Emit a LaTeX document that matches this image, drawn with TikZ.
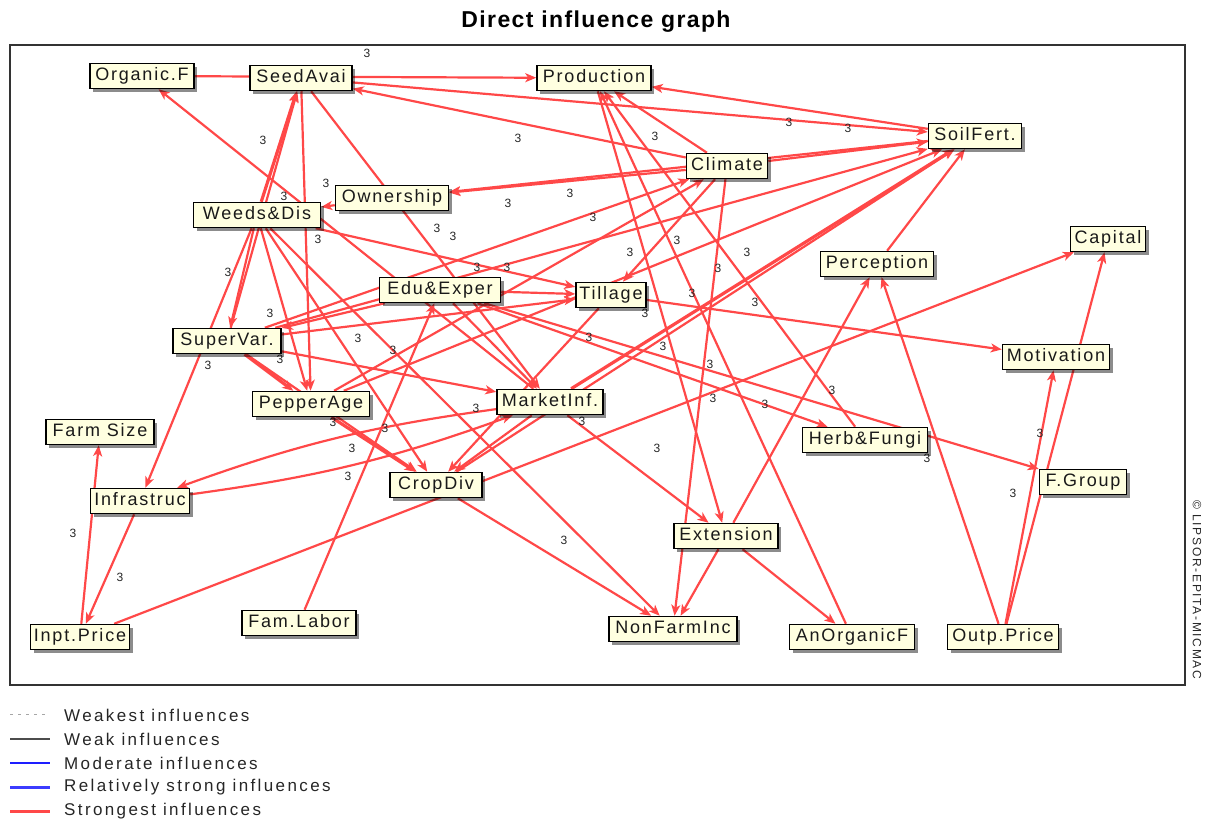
\documentclass[tikz,border=0pt]{standalone}
\usepackage{fontspec}
\setmainfont{Liberation Sans}
\newfontfamily\nodefont[LetterSpace=10]{Liberation Sans}
\newfontfamily\legfont[LetterSpace=14]{Liberation Sans}
\newfontfamily\ttlfont[LetterSpace=6]{Liberation Sans}
\usetikzlibrary{arrows.meta,shadows}
\definecolor{edgered}{RGB}{255,72,72}
\definecolor{cream}{RGB}{255,255,224}
\definecolor{legblue}{RGB}{60,60,255}
\definecolor{modblue}{RGB}{30,30,255}
\pgfdeclarelayer{background}
\pgfdeclarelayer{labels}
\pgfsetlayers{background,labels,main}
\begin{document}
\begin{tikzpicture}[x=1pt,y=-1pt,
 vbox/.style={draw=black, line width=1.5pt, fill=cream, minimum height=25pt, inner sep=1pt,
   text height=13pt, text depth=4pt,
   font=\nodefont\fontsize{18}{20}\selectfont, text=black!90,
   drop shadow={shadow xshift=3pt, shadow yshift=-3pt, opacity=0.45, fill=black}},
 infl/.style={draw=edgered, line width=2.2pt, -{Stealth[length=11pt,width=9pt,inset=3pt]}},
 heavy/.style={line width=3.2pt},
 lbl/.style={font=\fontsize{12}{13}\selectfont, text=black!85, inner sep=0pt},
 legtxt/.style={font=\legfont\fontsize{17}{19}\selectfont, anchor=west, inner sep=0pt, text=black!85},
 legline/.style={line width=1.2pt},
]
\useasboundingbox (0,0) rectangle (1208,822);

% title
\node[font=\ttlfont\bfseries\fontsize{23}{25}\selectfont] (title) at (596,22) {Direct influence graph};

% variables
\node[vbox, minimum width=104pt] (orgf)  at (142,76)  {Organic.F};
\node[vbox, minimum width=102pt] (seed)  at (301,78)  {SeedAvai};
\node[vbox, minimum width=114pt] (prod)  at (594,78)  {Production};
\node[vbox, minimum width=93pt]  (soil)  at (975,136) {SoilFert.};
\node[vbox, minimum width=81pt]  (clim)  at (727,166) {Climate};
\node[vbox, minimum width=113pt] (own)   at (392,198) {Ownership};
\node[vbox, minimum width=127pt] (weed)  at (257,215) {Weeds\&Dis};
\node[vbox, minimum width=75pt]  (cap)   at (1108,239) {Capital};
\node[vbox, minimum width=113pt] (perc)  at (877,264) {Perception};
\node[vbox, minimum width=121pt] (edu)   at (440,290) {Edu\&Exper};
\node[vbox, minimum width=70pt]  (till)  at (611,295) {Tillage};
\node[vbox, minimum width=108pt] (sup)   at (227,341) {SuperVar.};
\node[vbox, minimum width=107pt] (mot)   at (1056,357) {Motivation};
\node[vbox, minimum width=117pt] (pep)   at (311,404) {PepperAge};
\node[vbox, minimum width=106pt] (mkt)   at (550,402) {MarketInf.};
\node[vbox, minimum width=108pt] (farm)  at (100,432) {Farm Size};
\node[vbox, minimum width=125pt] (herb)  at (865,440) {Herb\&Fungi};
\node[vbox, minimum width=92pt]  (crop)  at (436,485) {CropDiv};
\node[vbox, minimum width=87pt]  (fgrp)  at (1083,482) {F.Group};
\node[vbox, minimum width=99pt]  (infra) at (140,501) {Infrastruc};
\node[vbox, minimum width=104pt] (ext)   at (726,536) {Extension};
\node[vbox, minimum width=128pt] (nfi)   at (673,629) {NonFarmInc};
\node[vbox, minimum width=125pt] (anorg) at (852,637) {AnOrganicF};
\node[vbox, minimum width=111pt] (outp)  at (1003,637) {Outp.Price};
\node[vbox, minimum width=114pt] (fam)   at (299,623) {Fam.Labor};
\node[vbox, minimum width=99pt]  (inpt)  at (80,637)  {Inpt.Price};

% influence values
\begin{pgfonlayer}{labels}
\foreach \p [count=\i] in {(367,53),(263,140),(518,138),(655,136),(789,122),(848,128),
  (326,183),(284,196),(318,239),(437,228),(453,236),(570,193),(508,203),(593,217),
  (228,272),(630,252),(677,240),(747,252),(718,268),(477,267),(507,267),(270,313),
  (692,293),(755,302),(645,313),(358,338),(393,350),(589,337),(663,346),(710,364),
  (208,365),(280,359),(713,398),(765,404),(476,408),(582,421),(333,422),(385,428),
  (352,448),(348,476),(657,448),(832,390),(927,458),(1040,433),(1013,493),(564,540),
  (73,533),(120,577)}
  \node[lbl] (lab\i) at \p {3};
\end{pgfonlayer}

% influences
\begin{pgfonlayer}{background}
\draw[line width=1.4pt, draw=black!80] (10,45) rectangle (1185,685);
\foreach \a/\b in {orgf/prod, seed/soil, soil/prod, clim/seed, clim/own, soil/own,
  clim/prod, clim/soil, clim/till, sup/clim, clim/nfi, crop/soil, pep/soil, sup/soil,
  perc/soil, ext/perc, outp/perc, outp/cap, outp/mot, till/mot, inpt/cap, edu/fgrp,
  edu/herb, herb/prod, ext/anorg, anorg/prod, ext/nfi, crop/nfi, weed/nfi, prod/ext,
  mkt/ext, sup/seed, weed/sup, weed/infra, seed/pep, weed/pep, seed/mkt, own/weed,
  mkt/orgf, weed/crop, sup/mkt, inpt/farm, infra/inpt, fam/edu, edu/till, weed/till,
  sup/till, edu/sup, pep/clim, edu/mkt, mkt/crop, sup/crop, till/crop}
  \draw[infl] (\a) -- (\b);
\foreach \a/\b in {weed/seed, sup/pep, mkt/soil, pep/crop}
  \draw[infl, heavy] (\a) -- (\b);
\draw[infl] (mkt) to[bend right=6] (infra);
\draw[infl] (infra) to[bend right=6] (mkt);
\end{pgfonlayer}

% copyright
\node[rotate=-90, font=\legfont\fontsize{12}{13}\selectfont, text=black!85] (copy) at (1197,590) {© LIPSOR-EPITA-MICMAC};

% legend
\draw[legline, draw=black!35, line width=1pt, dash pattern=on 3pt off 5pt] (10,714) -- (45,714);
\draw[legline, draw=black!70] (10,739) -- (50,739);
\draw[legline, draw=modblue] (10,763) -- (50,763);
\draw[legline, draw=legblue, line width=3pt] (10,787) -- (50,787);
\draw[legline, draw=edgered, line width=3pt] (10,811) -- (50,811);
\node[legtxt] (lg1) at (64,715) {Weakest influences};
\node[legtxt] (lg2) at (64,739) {Weak influences};
\node[legtxt] (lg3) at (64,763) {Moderate influences};
\node[legtxt] (lg4) at (64,787) {Relatively strong influences};
\node[legtxt] (lg5) at (64,811) {Strongest influences};
\end{tikzpicture}
\end{document}
